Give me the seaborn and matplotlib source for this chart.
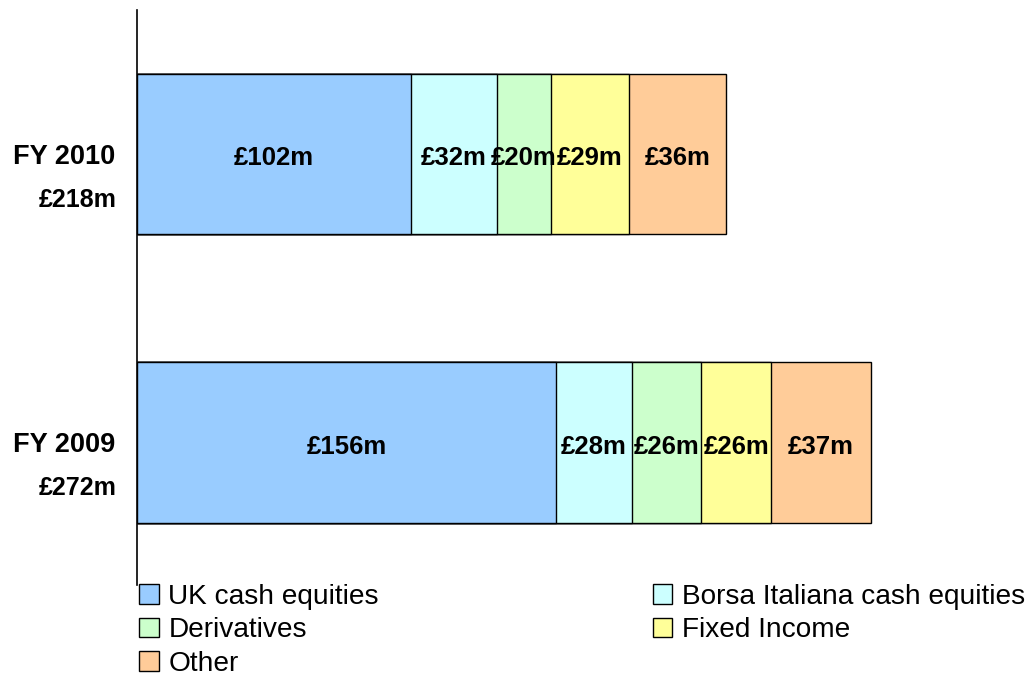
import matplotlib
matplotlib.use('Agg')
import matplotlib.pyplot as plt
from matplotlib.patches import Patch
import numpy as np
import pandas as pd
import seaborn as sns

# data
years = ['FY 2010', 'FY 2009']
totals = ['£218m', '£272m']
segments = ['UK cash equities', 'Borsa Italiana cash equities', 'Derivatives', 'Fixed Income', 'Other']
uk_cash = [102, 156]
borsa = [32, 28]
derivatives = [20, 26]
fixed_income = [29, 26]
other = [36, 37]
colors = ['#99CCFF', '#CCFFFF', '#CCFFCC', '#FFFF99', '#FFCC99']

sns.set_style('white')
plt.rcParams['font.family'] = ['Liberation Sans', 'DejaVu Sans']
plt.rcParams['text.color'] = 'black'

vals = np.array([uk_cash, borsa, derivatives, fixed_income, other])
cum = vals.cumsum(axis=0)

fig = plt.figure(figsize=(10.32, 6.75), dpi=100)
ax = fig.add_axes([137 / 1032, 90 / 675, 890 / 1032, 575 / 675])

# stacked bars: draw cumulative totals from largest to smallest
for i in range(len(segments) - 1, -1, -1):
    df = pd.DataFrame({'year': years, 'value': cum[i]})
    sns.barplot(data=df, x='value', y='year', order=years, orient='h', color=colors[i],
                saturation=1, width=0.555, edgecolor='black', linewidth=1, ax=ax)

# segment labels
for i in range(len(segments)):
    for j in range(len(years)):
        mid = cum[i][j] - vals[i][j] / 2
        ax.text(mid, j + 0.014, f'£{vals[i][j]}m', ha='center', va='center',
                fontsize=18.5, fontweight='bold', color='black')

# year and total labels on the left
for j, (yr, tot) in enumerate(zip(years, totals)):
    ax.annotate(yr, xy=(0, j), xycoords=('axes fraction', 'data'), xytext=(-22, -3),
                textcoords='offset pixels', ha='right', va='center', fontsize=19.5,
                fontweight='bold', color='black')
    ax.annotate(tot, xy=(0, j), xycoords=('axes fraction', 'data'), xytext=(-20, -46),
                textcoords='offset pixels', ha='right', va='center', fontsize=18,
                fontweight='bold', color='black')

ax.set_xlim(0, 331.1)
ax.set_ylim(1.494, -0.499)
ax.set_xlabel('')
ax.set_ylabel('')
ax.set_xticks([])
ax.set_yticks([])
for s in ['top', 'right', 'bottom']:
    ax.spines[s].set_visible(False)
ax.spines['left'].set_color('black')
ax.spines['left'].set_linewidth(1.2)

# legend: column 1 then column 2
order = [0, 2, 4, 1, 3]
handles = [Patch(facecolor=colors[k], edgecolor='black', linewidth=1, label=segments[k]) for k in order]
fig.legend(handles=handles, ncol=2, loc='upper left', bbox_to_anchor=(139 / 1032, 1 - 584 / 675),
           frameon=False, fontsize=20.2, handlelength=0.7, handleheight=0.7, handletextpad=0.35,
           labelspacing=0.26, columnspacing=9.75, borderaxespad=0, borderpad=0,
           labelcolor='black')

fig.savefig('out.png', dpi=100)
